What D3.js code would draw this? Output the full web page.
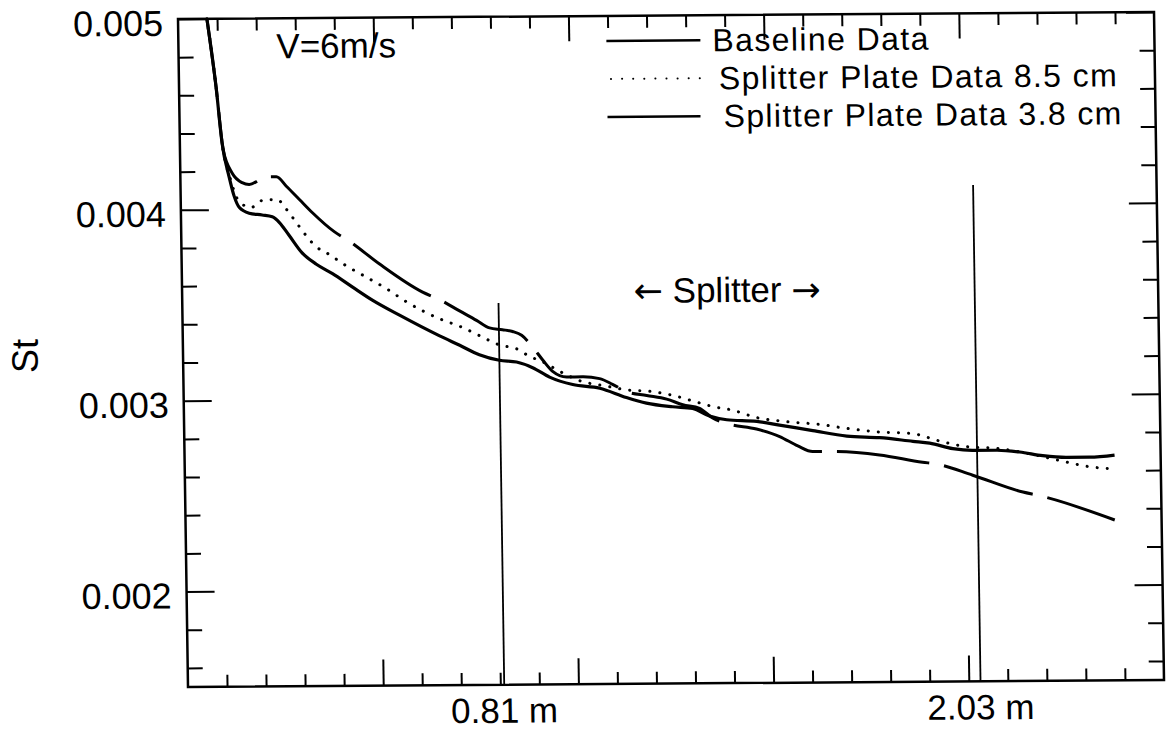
<!DOCTYPE html>
<html>
<head>
<meta charset="utf-8">
<script src="https://cdn.jsdelivr.net/npm/d3@7"></script>
<style>
  body { margin: 0; background: #fff; }
  svg { display: block; font-family: "Liberation Sans", Arial, Helvetica, sans-serif; }
</style>
</head>
<body>
<div id="chart"></div>
<script>
// distance along the plate (m) and Stanton number
const baseline = [
  [0.074,0.00500],[0.095,0.00464],[0.108,0.00435],[0.125,0.00417],[0.137,0.00407],[0.150,0.00401],
  [0.175,0.00398],[0.208,0.00397],[0.234,0.00396],[0.252,0.00393],[0.277,0.00386],[0.309,0.00377],
  [0.345,0.00371],[0.386,0.00366],[0.436,0.00359],[0.487,0.00352],[0.556,0.00344],[0.658,0.00333],
  [0.709,0.00328],[0.759,0.00323],[0.810,0.00320],[0.854,0.00319],[0.895,0.00316],[0.938,0.00311],
  [0.997,0.00307],[1.066,0.00305],[1.134,0.00300],[1.185,0.00297],[1.252,0.00295],[1.303,0.00294],
  [1.346,0.00290],[1.390,0.00288],[1.467,0.00287],[1.525,0.00285],[1.610,0.00282],[1.697,0.00279],
  [1.781,0.00278],[1.866,0.00276],[1.909,0.00275],[1.968,0.00272],[2.019,0.00271],[2.080,0.00271],
  [2.139,0.00270],[2.198,0.00268],[2.259,0.00267],[2.318,0.00267],[2.382,0.00268]
];
const plate85 = [
  [0.074,0.00500],[0.095,0.00464],[0.108,0.00435],[0.128,0.00416],[0.150,0.00404],[0.180,0.00401],
  [0.214,0.00405],[0.247,0.00405],[0.270,0.00400],[0.295,0.00393],[0.320,0.00386],[0.346,0.00380],
  [0.371,0.00377],[0.422,0.00370],[0.473,0.00364],[0.523,0.00358],[0.574,0.00351],[0.658,0.00342],
  [0.709,0.00338],[0.760,0.00333],[0.811,0.00328],[0.854,0.00326],[0.887,0.00322],[0.921,0.00319],
  [0.964,0.00314],[1.015,0.00309],[1.084,0.00306],[1.135,0.00304],[1.201,0.00303],[1.252,0.00301],
  [1.303,0.00298],[1.354,0.00295],[1.405,0.00293],[1.467,0.00289],[1.533,0.00287],[1.635,0.00285],
  [1.697,0.00283],[1.781,0.00281],[1.866,0.00280],[1.935,0.00276],[2.004,0.00273],[2.080,0.00272],
  [2.165,0.00269],[2.249,0.00265],[2.318,0.00262],[2.364,0.00261]
];
const plate38 = [
  [0.074,0.00500],[0.095,0.00464],[0.111,0.00431],[0.133,0.00419],[0.158,0.00414],[0.176,0.00413],
  [0.220,0.00417],[0.246,0.00417],[0.271,0.00412],[0.304,0.00405],[0.337,0.00398],[0.392,0.00388],
  [0.430,0.00383],[0.506,0.00371],[0.616,0.00356],[0.659,0.00352],[0.710,0.00346],[0.753,0.00341],
  [0.786,0.00337],[0.819,0.00336],[0.845,0.00335],[0.868,0.00333],[0.895,0.00327],[0.921,0.00320],
  [0.946,0.00314],[0.982,0.00311],[1.023,0.00311],[1.066,0.00310],[1.099,0.00307],[1.135,0.00303],
  [1.186,0.00301],[1.237,0.00299],[1.278,0.00296],[1.321,0.00294],[1.354,0.00289],[1.390,0.00286],
  [1.466,0.00283],[1.525,0.00279],[1.571,0.00274],[1.609,0.00271],[1.653,0.00271],[1.780,0.00269],
  [1.890,0.00265],[1.926,0.00264],[2.018,0.00258],[2.146,0.00249],[2.189,0.00247],[2.380,0.00234]
];

const xDomain = [0, 2.5];
const stDomain = [0.0015, 0.005];
const xMajor = [0.5, 1.0, 1.5, 2.0];
const stMajor = [0.002, 0.003, 0.004, 0.005];

const splitterX = [0.81, 2.03];
const splitterTop = [0.0035, 0.0041];
const splitterLabels = ["0.81 m", "2.03 m"];

const seriesNames = ["Baseline Data", "Splitter Plate Data 8.5 cm", "Splitter Plate Data 3.8 cm"];

const width = 976, height = 668;
const fontSize = 36;

const svg = d3.select("#chart")
    .append("svg")
    .attr("width", 1167)
    .attr("height", 735);

svg.append("rect").attr("width", 1167).attr("height", 735).attr("fill", "#fff");

// the scan is slightly skewed, so the whole plot sits in a tilted frame
const g = svg.append("g")
    .attr("transform", `matrix(1, ${-7 / width}, ${10 / height}, 1, 178, 19)`);

const x = d3.scaleLinear().domain(xDomain).range([0, width]);
const y = d3.scaleLinear().domain(stDomain).range([height, 0]);

const xMinor = x.ticks(25).filter(d => d > 0 && d < 2.5 && !xMajor.some(m => Math.abs(m - d) < 1e-6));
const stMinor = d3.range(16, 50, 2).map(d => d / 10000).filter(d => !stMajor.some(m => Math.abs(m - d) < 1e-9));

function tickAxis(axis, values, size, transform) {
    const a = g.append("g")
        .attr("transform", transform || null)
        .call(axis.tickValues(values).tickSize(-size).tickSizeOuter(0).tickFormat(""));
    a.select(".domain").remove();
    a.selectAll("line").attr("stroke", "#000").attr("stroke-width", 2);
    return a;
}

// bottom / top ticks
tickAxis(d3.axisBottom(x), xMinor, 12, `translate(0,${height})`);
tickAxis(d3.axisBottom(x), xMajor, 26, `translate(0,${height})`);
tickAxis(d3.axisTop(x), xMinor, 12);
tickAxis(d3.axisTop(x), xMajor, 25);

// left / right ticks
tickAxis(d3.axisLeft(y), stMinor, 15);
tickAxis(d3.axisRight(y), stMinor, 15, `translate(${width},0)`);
tickAxis(d3.axisRight(y), stMajor, 28, `translate(${width},0)`);

const yAxis = g.append("g")
    .call(d3.axisLeft(y).tickValues(stMajor).tickSize(-28).tickPadding(15)
        .tickFormat(d3.format(".3f")));
yAxis.select(".domain").remove();
yAxis.selectAll("line").attr("stroke", "#000").attr("stroke-width", 2);
yAxis.selectAll("text")
    .attr("dy", "0.45em")
    .attr("fill", "#000")
    .style("font-size", fontSize + "px")
    .style("font-family", "'Liberation Sans', Arial, Helvetica, sans-serif");

// frame
g.append("rect")
    .attr("width", width)
    .attr("height", height)
    .attr("fill", "none")
    .attr("stroke", "#000")
    .attr("stroke-width", 2.5);

// splitter position lines
g.selectAll(".splitter")
    .data(splitterX)
    .join("line")
    .attr("class", "splitter")
    .attr("x1", d => x(d)).attr("x2", d => x(d))
    .attr("y1", (d, i) => y(splitterTop[i]))
    .attr("y2", height)
    .attr("stroke", "#000")
    .attr("stroke-width", 1.8);

g.selectAll(".splitter-label")
    .data(splitterLabels)
    .join("text")
    .attr("class", "splitter-label")
    .attr("x", (d, i) => x(splitterX[i]))
    .attr("y", height + 38)
    .attr("text-anchor", "middle")
    .style("font-size", "35px")
    .text(d => d);

// curves
const line = d3.line()
    .x(d => x(d[0]))
    .y(d => y(d[1]))
    .curve(d3.curveMonotoneX);

g.append("path")
    .datum(plate85)
    .attr("fill", "none")
    .attr("stroke", "#000")
    .attr("stroke-width", 3)
    .attr("stroke-linecap", "round")
    .attr("stroke-dasharray", "0.1,10")
    .attr("d", line);

g.append("path")
    .datum(plate38)
    .attr("fill", "none")
    .attr("stroke", "#000")
    .attr("stroke-width", 3)
    .attr("stroke-dasharray", "93,15")
    .attr("stroke-dashoffset", 14)
    .attr("d", line);

g.append("path")
    .datum(baseline)
    .attr("fill", "none")
    .attr("stroke", "#000")
    .attr("stroke-width", 3.2)
    .attr("stroke-linejoin", "round")
    .attr("d", line);

// annotations
g.append("text")
    .attr("x", 98)
    .attr("y", 40)
    .style("font-size", "35px")
    .text("V=6m/s");

const splitText = g.append("text")
    .attr("x", 545)
    .attr("y", 287)
    .attr("text-anchor", "middle")
    .style("font-size", "35px");
splitText.append("tspan").style("font-family", "'DejaVu Sans', sans-serif").text("\u2190");
splitText.append("tspan").text(" Splitter ");
splitText.append("tspan").style("font-family", "'DejaVu Sans', sans-serif").text("\u2192");

svg.append("text")
    .attr("transform", "translate(25,356) rotate(-90)")
    .attr("text-anchor", "middle")
    .attr("dominant-baseline", "central")
    .style("font-size", fontSize + "px")
    .text("St");

// legend
const legendRows = [
    {x1: 428, x2: 522, tx: 534, dash: null, w: 2.5},
    {x1: 432, x2: 528, tx: 540, dash: "0.1,11", w: 2},
    {x1: 428, x2: 521, tx: 544, dash: null, w: 2.5}
];

const legend = g.selectAll(".legend")
    .data(seriesNames)
    .join("g")
    .attr("class", "legend")
    .attr("transform", (d, i) => `translate(0,${25 + i * 38})`);

legend.append("line")
    .attr("x1", (d, i) => legendRows[i].x1)
    .attr("x2", (d, i) => legendRows[i].x2)
    .attr("stroke", "#000")
    .attr("stroke-width", (d, i) => legendRows[i].w)
    .attr("stroke-linecap", (d, i) => legendRows[i].dash ? "round" : "butt")
    .attr("stroke-dasharray", (d, i) => legendRows[i].dash);

legend.append("text")
    .attr("x", (d, i) => legendRows[i].tx)
    .attr("y", 11)
    .style("font-size", "32px")
    .style("letter-spacing", "1.4px")
    .text(d => d);
</script>
</body>
</html>
